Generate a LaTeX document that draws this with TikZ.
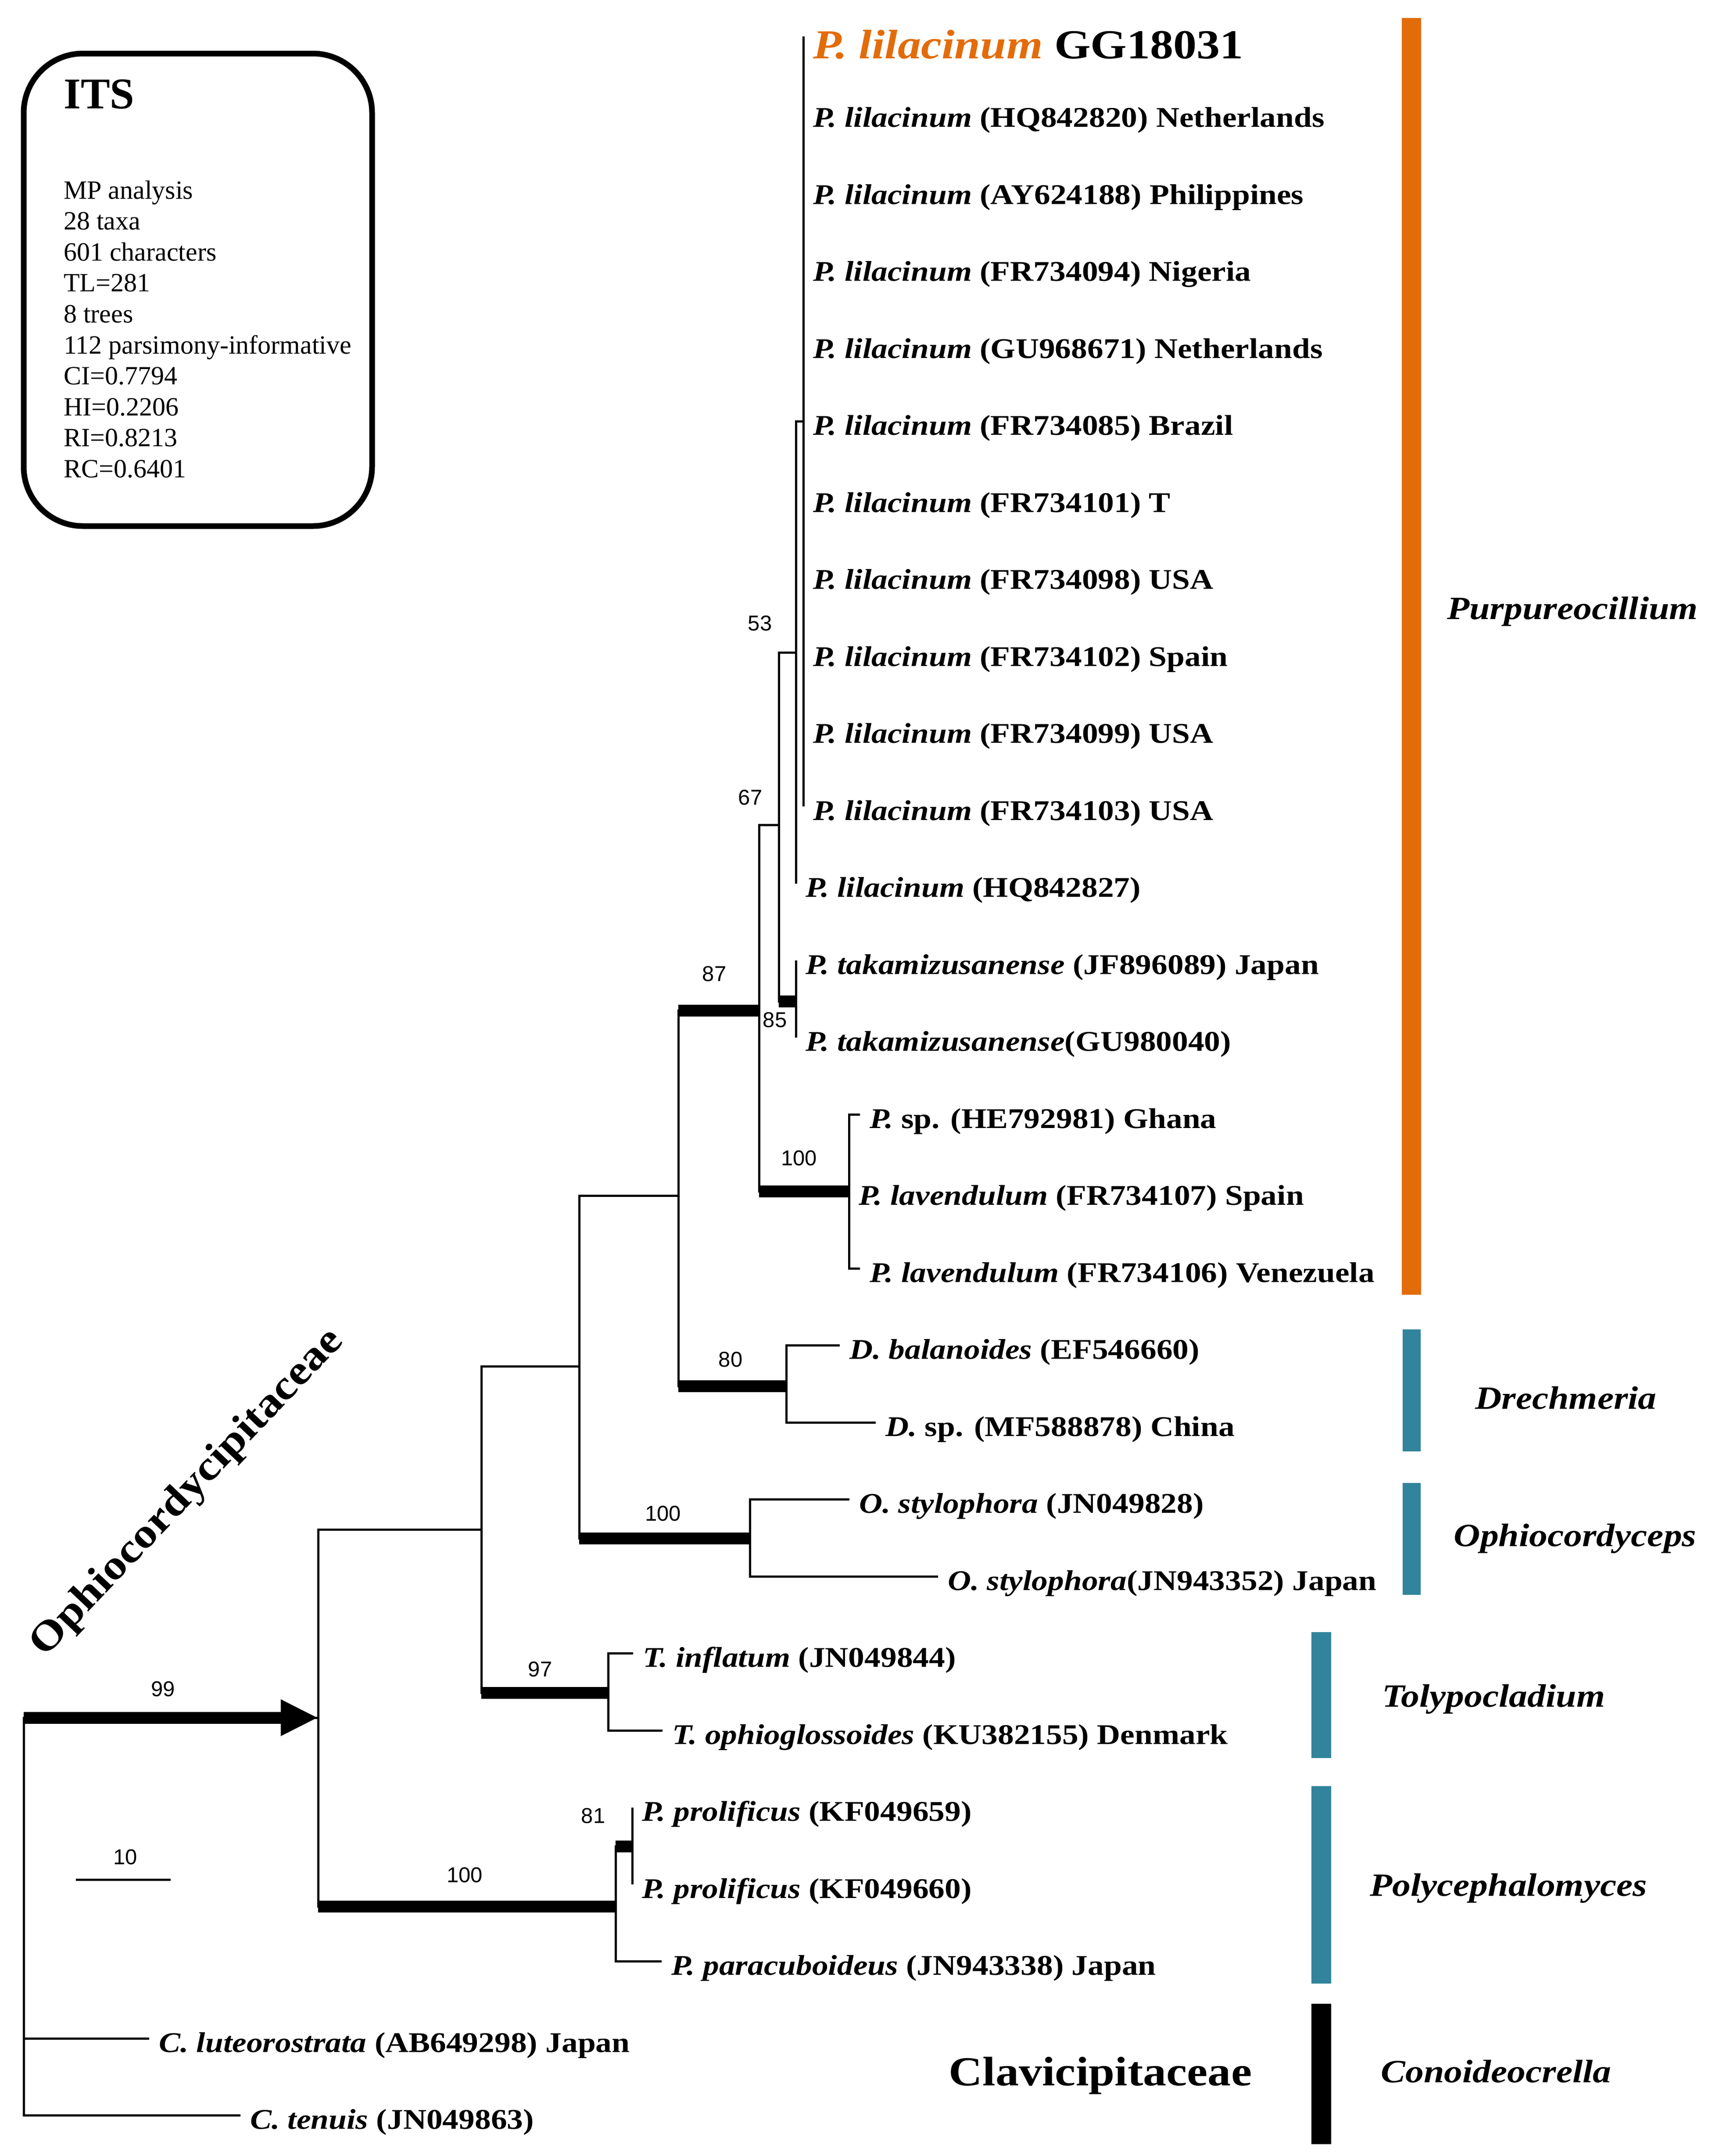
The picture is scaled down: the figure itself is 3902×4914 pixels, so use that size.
\documentclass[tikz,border=0pt]{standalone}
\usepackage{fontspec}
\setmainfont{Liberation Serif}
\newfontfamily\taxfont[FakeStretch=1.13]{Liberation Serif}
\newfontfamily\numfont{Liberation Sans}
\usetikzlibrary{arrows.meta}

\definecolor{pOrange}{HTML}{E36C0A}
\definecolor{pTeal}{HTML}{31849B}

\begin{document}
\begin{tikzpicture}[x=1pt, y=-1pt,
    branch/.style={line width=5pt},
    strong/.style={line width=27pt},
    taxon/.style={anchor=base west, inner sep=0pt, xshift=22pt, yshift=-31pt,
        font=\taxfont\bfseries\fontsize{65}{78}\selectfont},
    boot/.style={inner sep=0pt, font=\numfont\fontsize{49}{58}\selectfont},
    genus/.style={anchor=base, inner sep=0pt,
        font=\taxfont\bfseries\itshape\fontsize{74}{88}\selectfont},
    family/.style={inner sep=0pt, font=\taxfont\bfseries\fontsize{94}{110}\selectfont},
    boxtext/.style={anchor=base west, inner sep=0pt, font=\fontsize{60}{70}\selectfont}]
    \useasboundingbox (0,0) rectangle (3902,4914);

    % statistics box
    \draw[line width=13pt, rounded corners=135pt] (54,122) rectangle (848,1199);
    \node[anchor=base west, inner sep=0pt, font=\bfseries\fontsize{100}{120}\selectfont] (its) at (145,247) {ITS};
    \foreach \s [count=\k from 0] in {MP analysis, 28 taxa, 601 characters, TL=281, 8 trees,
        112 parsimony-informative, CI=0.7794, HI=0.2206, RI=0.8213, RC=0.6401}
        \node[boxtext] (s\k) at (145,{453+70.6*\k}) {\s};

    % internal nodes
    \coordinate (root) at (54,4400);
    \coordinate (nOph) at (725,3915);
    \coordinate (nPoly) at (1403,4345);
    \coordinate (n81) at (1441,4208);
    \coordinate (nCore) at (1097,3486);
    \coordinate (n97) at (1386,3858);
    \coordinate (nA) at (1320,3114);
    \coordinate (n100o) at (1709,3506);
    \coordinate (nB) at (1546,2725);
    \coordinate (n80) at (1792,3159);
    \coordinate (n87) at (1730,2303);
    \coordinate (n100l) at (1935,2715.5);
    \coordinate (n67) at (1775,1880);
    \coordinate (n85) at (1814,2282);
    \coordinate (n53) at (1814,1487);
    \coordinate (nLil) at (1831,960.5);

    % tips
    \foreach \i in {0,...,10}
        \coordinate (e\i) at (1831,{83+175.5*\i});
    \foreach \i in {11,12,13}
        \coordinate (e\i) at (1814,{83+175.5*\i});
    \coordinate (e14) at (1960,{83+175.5*14});
    \coordinate (e15) at (1935,{83+175.5*15});
    \coordinate (e16) at (1960,{83+175.5*16});
    \coordinate (e17) at (1914,{83+175.5*17});
    \coordinate (e18) at (1996,{83+175.5*18});
    \coordinate (e19) at (1936,{83+175.5*19});
    \coordinate (e20) at (2138,{83+175.5*20});
    \coordinate (e21) at (1443,{83+175.5*21});
    \coordinate (e22) at (1510,{83+175.5*22});
    \coordinate (e23) at (1441,{83+175.5*23});
    \coordinate (e24) at (1441,{83+175.5*24});
    \coordinate (e25) at (1508,{83+175.5*25});
    \coordinate (e26) at (340,{83+175.5*26});
    \coordinate (e27) at (548,{83+175.5*27});

    % branches
    \foreach \i in {0,...,10}
        \draw[branch] (nLil) |- (e\i);
    \draw[branch] (n53) |- (nLil);
    \draw[branch] (n53) |- (e11);
    \draw[branch] (n85) |- (e12);
    \draw[branch] (n85) |- (e13);
    \draw[branch] (n67) |- (n53);
    \draw[branch] (n67) |- (n85);
    \draw[strong] (n67 |- n85) -- (n85);
    \draw[branch] (n100l) |- (e14);
    \draw[branch] (n100l) |- (e15);
    \draw[branch] (n100l) |- (e16);
    \draw[branch] (n87) |- (n67);
    \draw[branch] (n87) |- (n100l);
    \draw[strong] (n87 |- n100l) -- (n100l);
    \draw[branch] (n80) |- (e17);
    \draw[branch] (n80) |- (e18);
    \draw[branch] (nB) |- (n87);
    \draw[strong] (nB |- n87) -- (n87);
    \draw[branch] (nB) |- (n80);
    \draw[strong] (nB |- n80) -- (n80);
    \draw[branch] (n100o) |- (e19);
    \draw[branch] (n100o) |- (e20);
    \draw[branch] (nA) |- (nB);
    \draw[branch] (nA) |- (n100o);
    \draw[strong] (nA |- n100o) -- (n100o);
    \draw[branch] (n97) |- (e21);
    \draw[branch] (n97) |- (e22);
    \draw[branch] (nCore) |- (nA);
    \draw[branch] (nCore) |- (n97);
    \draw[strong] (nCore |- n97) -- (n97);
    \draw[branch] (n81) |- (e23);
    \draw[branch] (n81) |- (e24);
    \draw[branch] (nPoly) |- (n81);
    \draw[strong] (nPoly |- n81) -- (n81);
    \draw[branch] (nPoly) |- (e25);
    \draw[branch] (nOph) |- (nCore);
    \draw[branch] (nOph) |- (nPoly);
    \draw[strong] (nOph |- nPoly) -- (nPoly);
    \draw[branch] (root) |- (nOph);
    \draw[strong, -{Triangle[length=85pt, width=77pt]}] (root |- nOph) -- (nOph);
    \draw[branch] (root) |- (e26);
    \draw[branch] (root) |- (e27);

    % taxa
    \node[taxon, yshift=-19pt, font=\taxfont\bfseries\fontsize{94}{110}\selectfont] (t0) at (e0)
        {\textcolor{pOrange}{\textit{P. lilacinum}} GG18031};
    \foreach \i/\acc/\loc in {1/HQ842820/Netherlands, 2/AY624188/Philippines, 3/FR734094/Nigeria,
        4/GU968671/Netherlands, 5/FR734085/Brazil, 6/FR734101/T, 7/FR734098/USA,
        8/FR734102/Spain, 9/FR734099/USA, 10/FR734103/USA}
        \node[taxon] (t\i) at (e\i) {\textit{P. lilacinum} (\acc) \loc};
    \node[taxon] (t11) at (e11) {\textit{P. lilacinum} (HQ842827)};
    \node[taxon] (t12) at (e12) {\textit{P. takamizusanense} (JF896089) Japan};
    \node[taxon] (t13) at (e13) {\textit{P. takamizusanense}(GU980040)};
    \node[taxon] (t14) at (e14) {\textit{P.} sp. (HE792981) Ghana};
    \node[taxon] (t15) at (e15) {\textit{P. lavendulum} (FR734107) Spain};
    \node[taxon] (t16) at (e16) {\textit{P. lavendulum} (FR734106) Venezuela};
    \node[taxon] (t17) at (e17) {\textit{D. balanoides} (EF546660)};
    \node[taxon] (t18) at (e18) {\textit{D.} sp. (MF588878) China};
    \node[taxon] (t19) at (e19) {\textit{O. stylophora} (JN049828)};
    \node[taxon] (t20) at (e20) {\textit{O. stylophora}(JN943352) Japan};
    \node[taxon] (t21) at (e21) {\textit{T. inflatum} (JN049844)};
    \node[taxon] (t22) at (e22) {\textit{T. ophioglossoides} (KU382155) Denmark};
    \node[taxon] (t23) at (e23) {\textit{P. prolificus} (KF049659)};
    \node[taxon] (t24) at (e24) {\textit{P. prolificus} (KF049660)};
    \node[taxon] (t25) at (e25) {\textit{P. paracuboideus} (JN943338) Japan};
    \node[taxon] (t26) at (e26) {\textit{C. luteorostrata} (AB649298) Japan};
    \node[taxon] (t27) at (e27) {\textit{C. tenuis} (JN049863)};

    % bootstrap values
    \foreach \v/\x/\y [count=\k] in {99/372/3850, 100/1059/4274, 81/1352/4139, 97/1231/3805,
        100/1511/3450, 80/1665/3099, 87/1628/2220, 100/1821/2640, 67/1710/1818,
        85/1766/2325, 53/1732/1421}
        \node[boot] (bs\k) at (\x,\y) {\v};

    % scale bar
    \coordinate (sbL) at (173,4284);
    \coordinate (sbR) at (389,4284);
    \draw[branch] (sbL) -- (sbR);
    \node[boot] (sb) at (286,4233) {10};

    % clade bars and names
    \fill[pOrange] (3195,41) rectangle (3239,2951);
    \fill[pTeal] (3197,3030) rectangle (3238,3308);
    \fill[pTeal] (3197,3380) rectangle (3238,3635);
    \fill[pTeal] (2989,3720) rectangle (3034,4007);
    \fill[pTeal] (2989,4071) rectangle (3034,4521);
    \fill[black] (2989,4567) rectangle (3034,4887);
    \node[genus] (gPur) at (3584,1411) {Purpureocillium};
    \node[genus] (gDre) at (3569,3211) {Drechmeria};
    \node[genus] (gOph) at (3590,3524) {Ophiocordyceps};
    \node[genus] (gTol) at (3404,3890) {Tolypocladium};
    \node[genus] (gPol) at (3438,4321) {Polycephalomyces};
    \node[genus] (gCon) at (3410,4746) {Conoideocrella};
    \node[family, anchor=base] (fCla) at (2508,4753) {Clavicipitaceae};
    \node[family, rotate=46.5] (fOph) at (427,3403) {Ophiocordycipitaceae};
\end{tikzpicture}
\end{document}
